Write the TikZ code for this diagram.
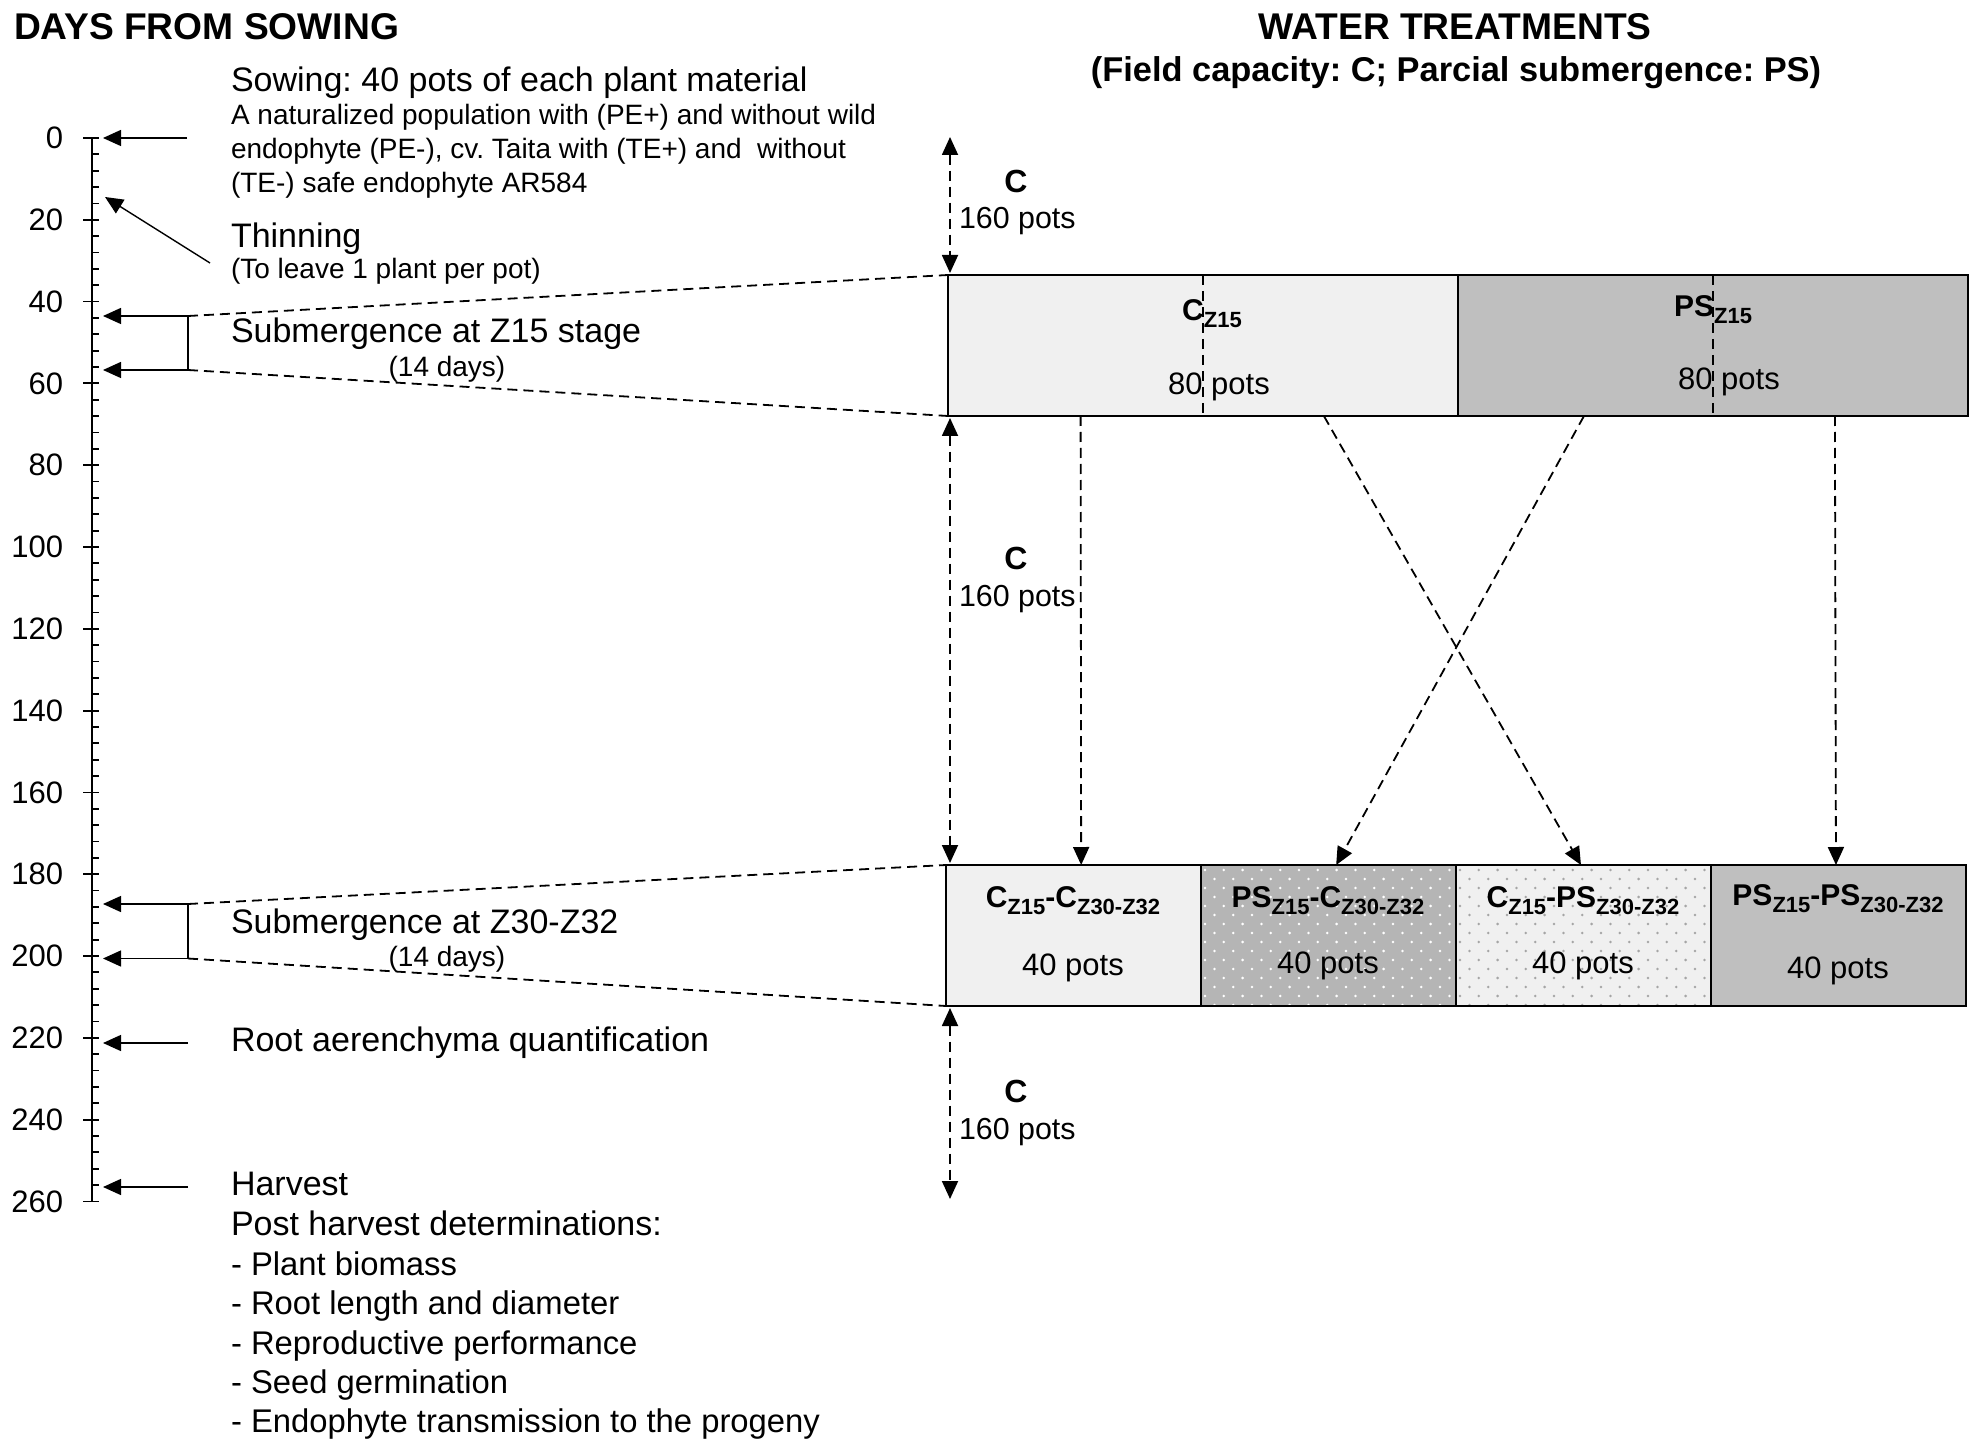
\documentclass[tikz,border=0pt]{standalone}
\usepackage{fontspec}
\setmainfont{Liberation Sans}
\usetikzlibrary{arrows.meta,calc}
\frenchspacing
\newcommand\myfs[1]{\fontsize{#1}{#1}\selectfont}
\newcommand\mysub[1]{\raisebox{-3.5pt}{\fontsize{11}{11}\selectfont #1}}
\definecolor{lightbox}{RGB}{240,240,240}
\definecolor{darkbox}{RGB}{191,191,191}
\definecolor{dotgrey}{RGB}{165,165,165}
\begin{document}
\frenchspacing
\begin{tikzpicture}[x=0.5pt,y=-0.5pt,
  every node/.style={inner sep=0pt,outer sep=0pt},
  hd/.style={font=\bfseries\myfs{18.6}},
  sub/.style={font=\bfseries\myfs{17.2}},
  big/.style={font=\myfs{17}},
  lst/.style={font=\myfs{16.4}},
  sm/.style={font=\myfs{14}},
  num/.style={font=\myfs{15.5}},
  blab/.style={font=\bfseries\myfs{15}},
  clab/.style={font=\bfseries\myfs{16}},
  pots/.style={font=\myfs{15.5}},
  arr/.style={line width=0.7pt,-{Triangle[length=9pt,width=8pt]}},
  dsh/.style={line width=0.9pt,dash pattern=on 5pt off 3pt},
  darr/.style={dsh,-{Triangle[length=9pt,width=8pt]}},
  ddarr/.style={dsh,{Triangle[length=9pt,width=8pt]}-{Triangle[length=9pt,width=8pt]}},
  boxst/.style={draw,line width=1.3pt,anchor=north west,minimum height=70.5pt},
]
\fill[white] (0,0) rectangle (1984,1454);
\useasboundingbox (0,0) rectangle (1984,1454);

% headings
\node[hd,anchor=base west] (hdays) at (14,40) {DAYS FROM SOWING};
\node[hd,anchor=base] (hwater) at (1455,40) {WATER TREATMENTS};
\node[sub,anchor=base] (hsub) at (1456,82) {(Field capacity: C; Parcial submergence: PS)};

% axis
\draw[line width=1pt] (92,138) -- (92,{138+4.09*260});
\foreach \d in {4,8,...,256}{
  \draw[line width=0.9pt] (92,{138+4.09*\d}) -- (99,{138+4.09*\d});
}
\foreach \d in {0,20,...,260}{
  \draw[line width=0.9pt] (83,{138+4.09*\d}) -- (99,{138+4.09*\d});
  \node[num,anchor=east] (t\d) at (63,{138+4.09*\d}) {\d};
}

% left texts
\node[big,anchor=base west] (sow) at (231,92) {Sowing: 40 pots of each plant material};
\node[sm,anchor=base west] (sow1) at (231,125) {A naturalized population with (PE+) and without wild};
\node[sm,anchor=base west] (sow2) at (231,159) {endophyte (PE-), cv. Taita with (TE+) and \ without};
\node[sm,anchor=base west] (sow3) at (231,193) {(TE-) safe endophyte AR584};
\node[big,anchor=base west] (thin) at (231,248) {Thinning};
\node[sm,anchor=base west] (thin1) at (231,279) {(To leave 1 plant per pot)};
\node[big,anchor=base west] (subA) at (231,343) {Submergence at Z15 stage};
\node[sm,anchor=base] (subA1) at (447,377) {(14 days)};
\node[big,anchor=base west] (subB) at (231,933) {Submergence at Z30-Z32};
\node[sm,anchor=base] (subB1) at (447,966) {(14 days)};
\node[big,anchor=base west] (root) at (231,1051) {Root aerenchyma quantification};
\node[big,anchor=base west] (harv) at (231,1195) {Harvest};
\node[big,anchor=base west] (post) at (231,1235) {Post harvest determinations:};
\node[lst,anchor=base west] (p1) at (231,1275) {- Plant biomass};
\node[lst,anchor=base west] (p2) at (231,1314) {- Root length and diameter};
\node[lst,anchor=base west] (p3) at (231,1354) {- Reproductive performance};
\node[lst,anchor=base west] (p4) at (231,1393) {- Seed germination};
\node[lst,anchor=base west] (p5) at (231,1432) {- Endophyte transmission to the progeny};

% left arrows
\coordinate (s0) at (187,138);   \coordinate (s0t) at (103,138);
\coordinate (th) at (210,263);   \coordinate (tht) at (105,197);
\coordinate (za) at (188,316);   \coordinate (zat) at (103,316);
\coordinate (zb) at (188,370);   \coordinate (zbt) at (103,370);
\coordinate (zc) at (188,904);   \coordinate (zct) at (103,904);
\coordinate (zd) at (188,958.5); \coordinate (zdt) at (103,958.5);
\coordinate (ra) at (188,1043);  \coordinate (rat) at (103,1043);
\coordinate (hv) at (188,1187);  \coordinate (hvt) at (103,1187);
\draw[arr] (s0) -- (s0t);
\draw[arr] (th) -- (tht);
\draw[arr] (za) -- (zat);
\draw[arr] (zb) -- (zbt);
\draw[arr] (zc) -- (zct);
\draw[arr] (zd) -- (zdt);
\draw[arr] (ra) -- (rat);
\draw[arr] (hv) -- (hvt);
\draw[line width=0.7pt] (za) -- (zb);
\draw[line width=0.7pt] (zc) -- (zd);

% top boxes
\node[boxst,fill=lightbox,minimum width=255pt] (cz) at (948,275) {};
\node[boxst,fill=darkbox,minimum width=255pt] (pz) at (1458,275) {};
\draw[dsh] (cz.north) -- (cz.south);
\draw[dsh] (pz.north) -- (pz.south);
\node[blab,anchor=base] (czl) at (1212,321) {C\mysub{Z15}};
\node[blab,anchor=base] (pzl) at (1713,317) {PS\mysub{Z15}};
\node[pots,anchor=base] (czp) at (1219,395) {80 pots};
\node[pots,anchor=base] (pzp) at (1729,390) {80 pots};

% bottom boxes
\node[boxst,fill=lightbox,minimum width=127.5pt] (b1) at (946,865) {};
\node[boxst,fill=darkbox!95!black,minimum width=127.5pt] (b2) at (1201,865) {};
\node[boxst,fill=lightbox,minimum width=127.5pt] (b3) at (1456,865) {};
\node[boxst,fill=darkbox,minimum width=127.5pt] (b4) at (1711,865) {};
\begin{scope}
  \clip (1203,867) rectangle (1454,1004);
  \foreach \j in {0,...,15}{
    \pgfmathsetmacro\off{mod(\j,2)*9.4}
    \foreach \i in {0,...,13}{
      \fill[white] ({1205+\off+\i*18.8},{870+\j*9}) circle[radius=0.7pt];
    }
  }
\end{scope}
\begin{scope}
  \clip (1458,867) rectangle (1709,1004);
  \foreach \j in {0,...,15}{
    \pgfmathsetmacro\off{mod(\j,2)*9.4}
    \foreach \i in {0,...,13}{
      \fill[dotgrey] ({1460+\off+\i*18.8},{870+\j*9}) circle[radius=0.7pt];
    }
  }
\end{scope}
\draw[line width=1.3pt] (b1.north west) rectangle (b4.south east);
\node[blab,anchor=base] (b1l) at (1073,907) {C\mysub{Z15}-C\mysub{Z30-Z32}};
\node[blab,anchor=base] (b2l) at (1328,907) {PS\mysub{Z15}-C\mysub{Z30-Z32}};
\node[blab,anchor=base] (b3l) at (1583,907) {C\mysub{Z15}-PS\mysub{Z30-Z32}};
\node[blab,anchor=base] (b4l) at (1838,905) {PS\mysub{Z15}-PS\mysub{Z30-Z32}};
\node[pots,anchor=base] (b1p) at (1073,975) {40 pots};
\node[pots,anchor=base] (b2p) at (1328,973) {40 pots};
\node[pots,anchor=base] (b3p) at (1583,973) {40 pots};
\node[pots,anchor=base] (b4p) at (1838,978) {40 pots};

% dashed projection lines
\draw[dsh] (za) -- (cz.north west);
\draw[dsh] (zb) -- (cz.south west);
\draw[dsh] (zc) -- (b1.north west);
\draw[dsh] (zd) -- (b1.south west);

% dashed arrows between boxes
\draw[darr] ($(cz.south west)!0.26!(cz.south east)$) -- ($(b1.north west)!0.53!(b1.north east)$);
\draw[darr] ($(cz.south west)!0.737!(cz.south east)$) -- ($(b3.north west)!0.49!(b3.north east)$);
\draw[darr] ($(pz.south west)!0.247!(pz.south east)$) -- ($(b2.north west)!0.53!(b2.north east)$);
\draw[darr] ($(pz.south west)!0.739!(pz.south east)$) -- ($(b4.north west)!0.49!(b4.north east)$);

% C periods
\coordinate (c1a) at (950,137);  \coordinate (c1b) at (950,273);
\coordinate (c2a) at (950,418);  \coordinate (c2b) at (950,863);
\coordinate (c3a) at (950,1008); \coordinate (c3b) at (950,1199);
\draw[ddarr] (c1a) -- (c1b);
\draw[ddarr] (c2a) -- (c2b);
\draw[ddarr] (c3a) -- (c3b);
\node[clab,anchor=base] (c1) at (1016,193) {C};
\node[pots,anchor=base west,font=\myfs{15.2}] (c1p) at (959,229) {160 pots};
\node[clab,anchor=base] (c2) at (1016,569) {C};
\node[pots,anchor=base west,font=\myfs{15.2}] (c2p) at (959,606) {160 pots};
\node[clab,anchor=base] (c3) at (1016,1102) {C};
\node[pots,anchor=base west,font=\myfs{15.2}] (c3p) at (959,1139) {160 pots};
\end{tikzpicture}
\end{document}
